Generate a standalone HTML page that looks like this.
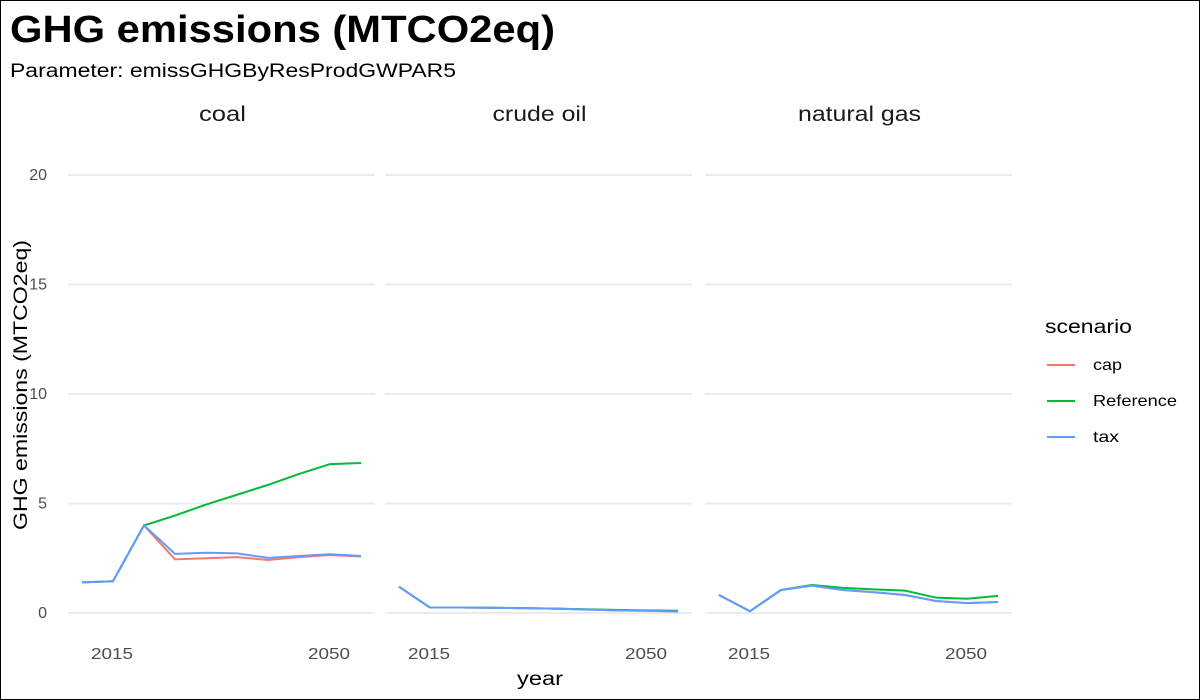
<!DOCTYPE html>
<html><head><meta charset="utf-8"><style>
body{margin:0;background:#fff;}
svg{display:block;font-family:"Liberation Sans",Arial,sans-serif;}
</style></head><body>
<svg id="c" width="1200" height="700">
<rect x="0.5" y="0.5" width="1199" height="699" fill="#fff" stroke="#000"/>
<text x="10" y="42" font-size="38" font-weight="bold" textLength="545" lengthAdjust="spacingAndGlyphs">GHG emissions (MTCO2eq)</text>
<text x="10" y="77" font-size="19" textLength="446" lengthAdjust="spacingAndGlyphs">Parameter: emissGHGByResProdGWPAR5</text>
<text x="27" y="385" font-size="19" transform="rotate(-90 27 385)" text-anchor="middle" textLength="290" lengthAdjust="spacingAndGlyphs">GHG emissions (MTCO2eq)</text>
<text x="540" y="685" font-size="19" text-anchor="middle" textLength="46" lengthAdjust="spacingAndGlyphs">year</text>
<g id="panels"></g>
<g>
<text x="1045" y="333" font-size="19" textLength="87" lengthAdjust="spacingAndGlyphs">scenario</text>
<line x1="1047" x2="1075" y1="365" y2="365" stroke="#F8766D" stroke-width="2"/>
<text x="1093" y="370" font-size="16" textLength="29" lengthAdjust="spacingAndGlyphs">cap</text>
<line x1="1047" x2="1075" y1="401" y2="401" stroke="#00BA38" stroke-width="2"/>
<text x="1093" y="406" font-size="16" textLength="84" lengthAdjust="spacingAndGlyphs">Reference</text>
<line x1="1047" x2="1075" y1="437" y2="437" stroke="#619CFF" stroke-width="2"/>
<text x="1093" y="442" font-size="16" textLength="26" lengthAdjust="spacingAndGlyphs">tax</text>
</g>
</svg>
<script>
const years=[2010,2015,2020,2025,2030,2035,2040,2045,2050,2055];
const panelNames=["coal","crude oil","natural gas"];
const yTicks=[0,5,10,15,20];
const xTicks=[2015,2050];
const coalCap=[1.4,1.45,4.0,2.45,2.5,2.55,2.42,2.55,2.65,2.58];
const coalRef=[1.4,1.45,4.0,4.45,4.95,5.4,5.85,6.35,6.8,6.85];
const coalTax=[1.4,1.45,4.0,2.7,2.75,2.72,2.52,2.6,2.68,2.6];
const oilCap=[1.2,0.25,0.25,0.24,0.22,0.2,0.16,0.12,0.1,0.07];
const oilRef=[1.2,0.25,0.25,0.24,0.22,0.2,0.17,0.14,0.12,0.1];
const oilTax=[1.2,0.25,0.25,0.24,0.22,0.2,0.16,0.12,0.1,0.07];
const gasCap=[0.82,0.08,1.05,1.25,1.05,0.95,0.82,0.55,0.45,0.5];
const gasRef=[0.82,0.08,1.05,1.28,1.15,1.08,1.02,0.7,0.65,0.78];
const gasTax=[0.82,0.08,1.05,1.25,1.05,0.95,0.82,0.55,0.45,0.5];
const panelData=[[coalCap,coalRef,coalTax],[oilCap,oilRef,oilTax],[gasCap,gasRef,gasTax]];
const colors=["#F8766D","#00BA38","#619CFF"];
const seriesNames=["cap","reference","tax"];
const titleLens=[47,94,123];
const NS="http://www.w3.org/2000/svg";
const g=document.getElementById("panels");
const panelX=[68,385,705],pw=307;
const y=v=>613-v*21.9;
function mk(t,a,p){const e=document.createElementNS(NS,t);for(const k in a)e.setAttribute(k,a[k]);p.appendChild(e);return e;}
panelNames.forEach((name,pi)=>{
 const x0=panelX[pi];
 const x=yr=>x0+(yr-2007.75)/49.5*pw;
 const pg=mk("g",{},g);
 
 
 yTicks.forEach(t=>{
  const l=mk("line",{x1:x0,x2:x0+pw,y1:y(t),y2:y(t),stroke:"#EBEBEB","stroke-width":2},pg);
  
  
  if(pi===0){const tx=mk("text",{x:47,y:y(t)+5,"font-size":16,fill:"#4D4D4D","text-anchor":"end"},pg);tx.textContent=t;
  
  }
 });
 xTicks.forEach(t=>{const tx=mk("text",{x:x(t)-1,y:659,"font-size":16,fill:"#4D4D4D","text-anchor":"middle",textLength:42,lengthAdjust:"spacingAndGlyphs"},pg);tx.textContent=t;
  
  });
 const st=mk("text",{x:x0+pw/2+1,y:121,"font-size":21,fill:"#1A1A1A","text-anchor":"middle",textLength:titleLens[pi],lengthAdjust:"spacingAndGlyphs"},pg);st.textContent=name;
 
 
 panelData[pi].forEach((s,si)=>{
  const p=mk("polyline",{points:s.map((v,i)=>x(years[i])+","+y(v)).join(" "),fill:"none",stroke:colors[si],"stroke-width":2},pg);
  
  
 });
});
</script>
</body></html>
